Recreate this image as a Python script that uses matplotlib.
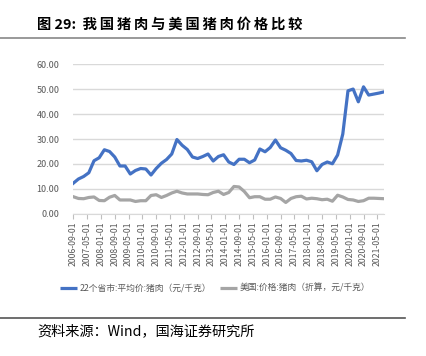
import matplotlib
matplotlib.use("Agg")
import matplotlib.pyplot as plt
from matplotlib.lines import Line2D

plt.rcParams['font.family'] = ['Noto Sans CJK SC', 'DejaVu Sans']

# quarterly observations, months after 2006-09
months = list(range(0, 181, 3))
china_price = [12.3, 14.0, 15.0, 16.5, 21.3, 22.5, 25.7, 25.0, 22.8, 19.2,
               19.2, 16.0, 17.4, 18.2, 18.0, 15.6, 18.2, 20.3, 21.8, 24.0,
               29.8, 27.5, 25.8, 22.8, 22.2, 23.0, 24.0, 21.2, 23.0, 23.7,
               20.8, 19.8, 21.9, 21.9, 20.5, 21.6, 26.0, 24.9, 26.6, 29.6,
               26.5, 25.5, 24.2, 21.4, 21.2, 21.5, 20.9, 17.3, 19.8, 20.8,
               20.1, 23.6, 32.0, 49.3, 50.0, 44.9, 50.9, 47.6, 48.0, 48.4,
               48.9]
us_price = [6.9, 6.2, 6.1, 6.6, 6.8, 5.4, 5.3, 6.7, 7.4, 5.6,
            5.6, 5.6, 5.0, 5.3, 5.3, 7.4, 7.7, 6.6, 7.4, 8.4,
            9.1, 8.4, 8.0, 8.0, 8.0, 7.8, 7.7, 8.6, 9.1, 7.8,
            8.6, 11.0, 10.8, 9.0, 6.5, 6.9, 6.9, 5.9, 5.9, 6.8,
            6.2, 4.6, 6.2, 6.9, 7.1, 6.0, 6.3, 6.1, 5.7, 5.9,
            5.1, 7.5, 6.8, 5.8, 5.6, 5.0, 5.3, 6.3, 6.3, 6.2,
            6.1]

tick_months = list(range(0, 177, 8))
tick_labels = ['2006-09-01', '2007-05-01', '2008-01-01', '2008-09-01',
               '2009-05-01', '2010-01-01', '2010-09-01', '2011-05-01',
               '2012-01-01', '2012-09-01', '2013-05-01', '2014-01-01',
               '2014-09-01', '2015-05-01', '2016-01-01', '2016-09-01',
               '2017-05-01', '2018-01-01', '2018-09-01', '2019-05-01',
               '2020-01-01', '2020-09-01', '2021-05-01']

series_names = ['22个省市:平均价:猪肉（元/千克）', '美国:价格:猪肉（折算，元/千克）']
title = '图 29:  ' + '\u2009'.join('我国猪肉与美国猪肉价格比较')
source = '资料来源：Wind，国海证券研究所'
blue = '#4472C4'
grey = '#A5A5A5'
txt = '#595959'

fig = plt.figure(figsize=(4.26, 3.56), dpi=100, facecolor='white')

fig.text(0.087, 0.93, title, fontsize=10.3, fontweight='bold',
         ha='left', va='center')
fig.add_artist(Line2D([0, 0.95], [0.893, 0.893], color='#888888', lw=1.2))

ax = fig.add_axes([0.172, 0.399, 0.730, 0.421])
ax.plot(months, china_price, color=blue, lw=2.3, solid_joinstyle='round')
ax.plot(months, us_price, color=grey, lw=2.3, solid_joinstyle='round')

ax.set_xlim(0, 180)
ax.set_ylim(0, 60)
ax.set_yticks(range(0, 61, 10))
ax.set_yticklabels(['%.2f' % v for v in range(0, 61, 10)])
ax.set_xticks(tick_months)
ax.set_xticklabels(tick_labels, rotation=90)
ax.tick_params(axis='y', length=0, labelsize=6.5, labelcolor=txt, pad=10)
ax.tick_params(axis='x', length=3.5, color='#bfbfbf', labelsize=6.3,
               labelcolor=txt, pad=2)
ax.grid(axis='y', color='#d9d9d9', lw=1)
ax.set_axisbelow(True)
for s in ['top', 'right', 'left']:
    ax.spines[s].set_visible(False)
ax.spines['bottom'].set_color('#d9d9d9')

handles = [Line2D([], [], color=blue, lw=2.3, solid_capstyle='butt'),
           Line2D([], [], color=grey, lw=2.3, solid_capstyle='butt')]
leg = fig.legend(handles, series_names, loc='center', ncol=2,
                 bbox_to_anchor=(0.505, 0.191), frameon=False, fontsize=6.3,
                 handlelength=1.9, handletextpad=0.3, columnspacing=1.0)
for t in leg.get_texts():
    t.set_color(txt)

fig.add_artist(Line2D([0, 0.95], [0.107, 0.107], color='#555555', lw=1.2))
fig.text(0.087, 0.071, source, fontsize=10.2, ha='left', va='center')

fig.savefig('out.png', dpi=100)
